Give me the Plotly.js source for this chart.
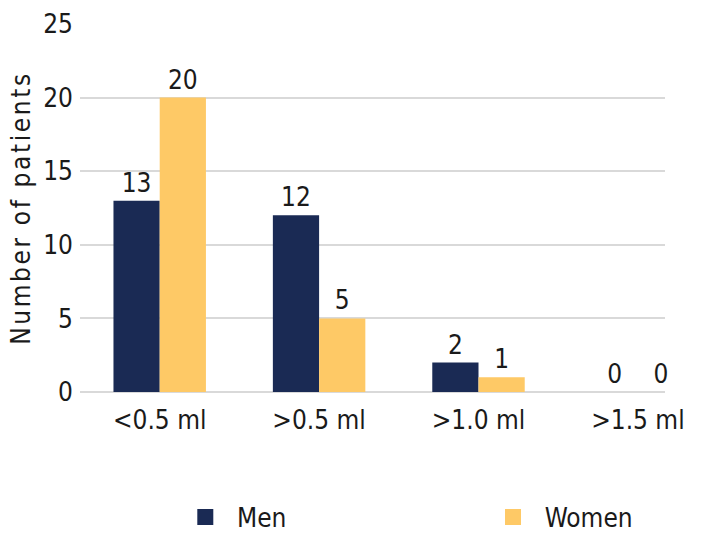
<!DOCTYPE html>
<html>
<head>
<meta charset="utf-8">
<script src="https://cdn.plot.ly/plotly-3.0.1.min.js"></script>
<style>
html,body{margin:0;padding:0;background:#fff;}
#chart{width:701px;height:538px;}
#chart .ytitle{letter-spacing:2.6px;}
</style>
</head>
<body>
<div id="chart"></div>
<script>
const categories = ["<0.5 ml", ">0.5 ml", ">1.0 ml", ">1.5 ml"];
const men = [13, 12, 2, 0];
const women = [20, 5, 1, 0];
const seriesNames = ["Men", "Women"];
const yTicks = [0, 5, 10, 15, 20, 25];

const FONT = '"DejaVu Sans Condensed", "Liberation Sans Narrow", Roboto, sans-serif';
const NAVY = '#1a2a54';
const GOLD = '#fec966';
const INK = '#1a1a1a';
const SZ = 26;

const traces = [
  {type:'bar', x:categories, y:men, name:seriesNames[0], marker:{color:NAVY},
   text:men.map(String), textposition:'outside', cliponaxis:false,
   textfont:{family:FONT, size:SZ, color:INK}, showlegend:false, hoverinfo:'x+y'},
  {type:'bar', x:categories, y:women, name:seriesNames[1], marker:{color:GOLD},
   text:women.map(String), textposition:'outside', cliponaxis:false,
   textfont:{family:FONT, size:SZ, color:INK}, showlegend:false, hoverinfo:'x+y'},
  {type:'scatter', mode:'markers', x:[null], y:[null], name:'\u2002' + seriesNames[0],
   marker:{symbol:'square', size:20, color:NAVY}, legend:'legend'},
  {type:'scatter', mode:'markers', x:[null], y:[null], name:'\u2002' + seriesNames[1],
   marker:{symbol:'square', size:20, color:GOLD}, legend:'legend2'}
];

const legendFont = {family:FONT, size:SZ, color:INK};
const layout = {
  width:701, height:538,
  margin:{l:80, r:36, t:24, b:146, autoexpand:false},
  paper_bgcolor:'#fff', plot_bgcolor:'#fff',
  font:{family:FONT, size:SZ, color:INK},
  barmode:'group', bargap:0.42, bargroupgap:0,
  xaxis:{type:'category', range:[-0.5, 3.17], showgrid:false, zeroline:false,
         showline:false, ticks:'', automargin:false, ticklabelstandoff:10,
         tickfont:{family:FONT, size:SZ, color:INK}},
  yaxis:{range:[0, 25], tickvals:yTicks, showgrid:true, gridcolor:'#d9d9d9', gridwidth:2,
         zeroline:true, zerolinecolor:'#d9d9d9', zerolinewidth:2, showline:false, ticks:'',
         ticklabelstandoff:6, automargin:false,
         tickfont:{family:FONT, size:SZ, color:INK},
         title:{text:'Number of patients', standoff:5, font:{family:FONT, size:SZ, color:INK}}},
  legend:{orientation:'h', x:0.18, xanchor:'left', y:-0.34, yanchor:'middle',
          font:legendFont, bgcolor:'rgba(0,0,0,0)'},
  legend2:{orientation:'h', x:0.706, xanchor:'left', y:-0.34, yanchor:'middle',
          font:legendFont, bgcolor:'rgba(0,0,0,0)'},
  showlegend:true
};

Plotly.newPlot('chart', traces, layout, {displayModeBar:false, staticPlot:true});
</script>
</body>
</html>
